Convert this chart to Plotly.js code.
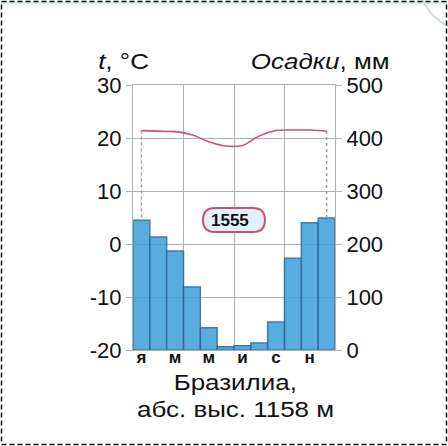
<!DOCTYPE html>
<html><head><meta charset="utf-8">
<script src="https://cdn.plot.ly/plotly-3.0.1.min.js"></script>
<style>html,body{margin:0;padding:0;background:#fff;overflow:hidden;}#wrap{position:relative;width:448px;height:446px;}#chart{width:448px;height:446px;}#frame{position:absolute;left:0;top:0;pointer-events:none;}</style>
</head><body><div id="wrap"><div id="chart"></div>
<svg id="frame" width="448" height="446">
  <rect x="1" y="1.5" width="446" height="3" fill="#d6efec"/>
  <circle cx="470" cy="-20" r="51" fill="none" stroke="#cfdcdc" stroke-width="2"/>
  <rect x="1.5" y="1.5" width="445" height="443" fill="none" stroke="#111" stroke-width="1.5" stroke-dasharray="5,3"/>
</svg></div>
<script>
const months = ['Я','Ф','М','А','М','И','И','А','С','О','Н','Д'];
const monthIdx = [0,1,2,3,4,5,6,7,8,9,10,11];
const tickVals = [0,2,4,6,8,10];
const tickText = ['я','м','м','и','с','н'];
const temperature = [21.4,21.3,21.2,20.6,19.3,18.5,18.6,20.4,21.4,21.5,21.5,21.3];
const precipitation = [245,213,187,119,42,6,8,13,53,173,240,249];
const annualTotal = '1555';
const station = 'Бразилиа,';
const altitude = 'абс. выс. 1158 м';
const tempTicks = [-20,-10,0,10,20,30];
const tempTickText = ['-20','-10','0','10','20','30'];
const precTicks = [0,100,200,300,400,500];

const font = 'Arial, "Liberation Sans", sans-serif';
const p2t = p => p / 10 - 20;

const traces = [
  {type:'bar', x:monthIdx, y:precipitation, yaxis:'y2', width:1,
   marker:{color:'#42a2da', opacity:0.88, line:{color:'#2a6a9c', width:1.5}},
   hoverinfo:'skip'},
  {type:'scatter', mode:'lines', x:monthIdx, y:temperature,
   line:{color:'#d0506c', width:1.6, shape:'spline', smoothing:1.1}, hoverinfo:'skip'}
];

const first = 0, last = monthIdx.length - 1;
const shapes = [
  {type:'line', xref:'x', yref:'y', x0:monthIdx[first], x1:monthIdx[first], y0:temperature[first], y1:p2t(precipitation[first]),
   line:{color:'#9a9a9a', width:1.5, dash:'dot'}},
  {type:'line', xref:'x', yref:'y', x0:monthIdx[last], x1:monthIdx[last], y0:temperature[last], y1:p2t(precipitation[last]),
   line:{color:'#9a9a9a', width:1.5, dash:'dot'}},
  {type:'path', xref:'paper', yref:'paper', layer:'above',
   path:'M 0.406 0.445 L 0.594 0.445 Q 0.653 0.445 0.653 0.4905 Q 0.653 0.536 0.594 0.536 L 0.406 0.536 Q 0.3465 0.536 0.3465 0.4905 Q 0.3465 0.445 0.406 0.445 Z',
   fillcolor:'#e3f0fa', line:{color:'#c9506e', width:2}}
];

const A = (x, y, text, size, xanchor, name) => ({xref:'paper', yref:'paper', x:x, y:y, text:text, showarrow:false,
  xanchor:xanchor || 'center', yanchor:'middle', font:{family:font, size:size, color:'#111'}, name:name || ''});
const annotations = [
  A(-0.045, 1.09, '<i>t</i>, °C', 22, 'center', 'wide'),
  A(1.282, 1.09, '<i>Осадки</i>, мм', 22, 'right', 'wide'),
  A(0.505, -0.124, station, 22, 'center', 'wide'),
  A(0.505, -0.226, altitude, 22, 'center', 'wide'),
  A(0.378, 0.4905, '<b>'+annualTotal+'</b>', 17, 'left')
];

const layout = {
  width:448, height:446, margin:{l:133, r:113, t:85, b:96},
  paper_bgcolor:'#fff', plot_bgcolor:'#fff', showlegend:false, bargap:0,
  font:{family:font, color:'#111'},
  xaxis:{range:[-0.5,11.5], tickvals:tickVals, ticktext:tickText, showgrid:false, zeroline:false,
    tickfont:{family:font, size:17, color:'#111', weight:'bold'}, ticks:'', ticklabelstandoff:-8,
    showline:true, mirror:true, linecolor:'#b0b0b0', linewidth:1,
    minor:{tickvals:[2.5,5.5,8.5], showgrid:true, gridcolor:'#b0b0b0', gridwidth:1, ticks:''}},
  yaxis:{range:[-20,30], tickvals:tempTicks, ticktext:tempTickText, gridcolor:'#b0b0b0', gridwidth:1, zeroline:false,
    tickfont:{family:font, size:22, color:'#111'}, ticks:'outside', ticklen:6, tickcolor:'#b0b0b0',
    showline:true, mirror:true, linecolor:'#b0b0b0', linewidth:1},
  yaxis2:{range:[0,500], tickvals:precTicks, overlaying:'y', side:'right', showgrid:false, zeroline:false,
    tickfont:{family:font, size:22, color:'#111'}, ticks:'outside', ticklen:6, tickcolor:'#b0b0b0'},
  shapes:shapes, annotations:annotations
};

Plotly.newPlot('chart', traces, layout, {staticPlot:true, displayModeBar:false}).then(gd => {
  // the reference lettering is slightly wide: stretch the caption texts horizontally
  const stretch = 1.18;
  const nodes = gd.querySelectorAll('.annotation');
  layout.annotations.forEach((a, i) => {
    if (a.name !== 'wide' || !nodes[i]) return;
    const t = nodes[i].querySelector('text.annotation-text');
    if (!t) return;
    const bb = t.getBBox();
    const ax = a.xanchor === 'right' ? bb.x + bb.width : bb.x + bb.width / 2;
    t.setAttribute('transform', `translate(${ax},0) scale(${stretch},1) translate(${-ax},0)`);
  });
});
</script></body></html>
